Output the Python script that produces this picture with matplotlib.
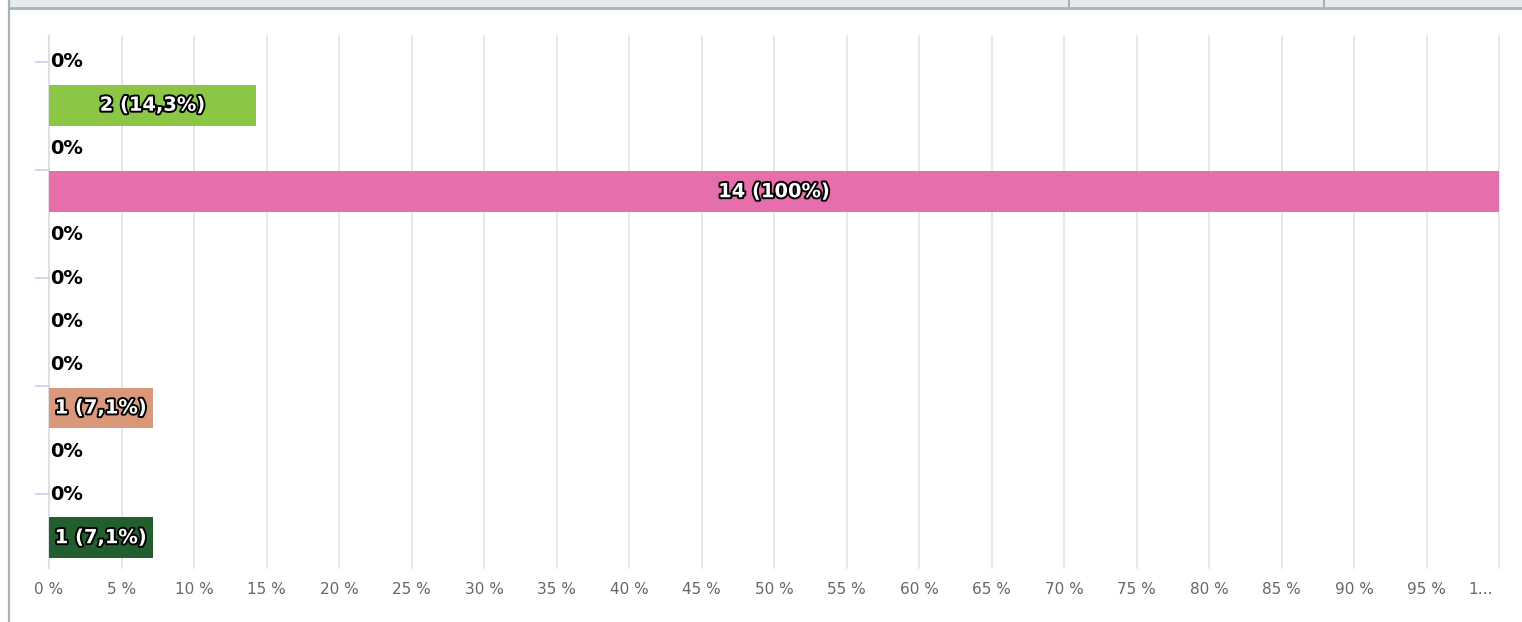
import matplotlib
matplotlib.use('Agg')
import matplotlib.pyplot as plt
import matplotlib.patheffects as pe
from matplotlib.lines import Line2D
from matplotlib.patches import Rectangle
from matplotlib.transforms import ScaledTranslation

# data (one row per answer option, top to bottom)
counts = [0, 2, 0, 14, 0, 0, 0, 0, 1, 0, 0, 1]
total = 14
row_colors = ['#8bc645', '#8bc645', '#e66eaa', '#e66eaa', '#e66eaa', '#e66eaa',
              '#e66eaa', '#e66eaa', '#da987b', '#da987b', '#225e2e', '#225e2e']
x_ticks = list(range(0, 101, 5))
x_ticklabels = [f'{t} %' for t in x_ticks[:-1]] + ['1…']

W, H = 1522, 622
fig = plt.figure(figsize=(W / 100, H / 100), dpi=100)

# frame bits from the surrounding page
fig.patches.append(Rectangle((9 / W, 1 - 7 / H), 1 - 9 / W, 7 / H, transform=fig.transFigure,
                             facecolor='#e6eaeb', edgecolor='none'))
fig.lines.append(Line2D([9 / W, 1], [1 - 8 / H, 1 - 8 / H], transform=fig.transFigure,
                        color='#a5b2b9', lw=2))
fig.lines.append(Line2D([9 / W, 9 / W], [0, 1], transform=fig.transFigure, color='#a5b2b9', lw=1.6))
for xp in (1069, 1324):
    fig.lines.append(Line2D([xp / W, xp / W], [1 - 7 / H, 1], transform=fig.transFigure,
                            color='#a5b2b9', lw=1.5))

ax = fig.add_axes([49 / W, 1 - 568 / H, 1450 / W, 532 / H])

pct = [c / total * 100 for c in counts]
rows = list(range(len(counts)))
ax.barh(rows, pct, height=0.94, color=row_colors, zorder=2)

for r, c, p in zip(rows, counts, pct):
    if c == 0:
        ax.text(0.1, r, '0%', ha='left', va='center', fontsize=14, fontweight='bold',
                color='black', zorder=3)
    else:
        s = f'{p:.1f}'.replace('.', ',').replace(',0', '')
        ax.text(p / 2, r, f'{c} ({s}%)', ha='center', va='center', fontsize=14,
                fontweight='bold', color='white', zorder=3,
                path_effects=[pe.withStroke(linewidth=2.8, foreground='black')])

ax.set_xlim(0, 100)
ax.set_ylim(11.7, -0.6)
ax.set_xticks(x_ticks)
ax.set_xticklabels(x_ticklabels, fontsize=11, color='#666666')
ax.tick_params(axis='x', length=0, pad=10)
ax.set_yticks([0, 2.5, 5, 7.5, 10])
ax.set_yticklabels([])
ax.tick_params(axis='y', length=10, width=1.2, color='#c4d2ea')
labels = ax.get_xticklabels()
labels[-1].set_horizontalalignment('right')
labels[-1].set_transform(labels[-1].get_transform() + ScaledTranslation(-6 / 100, 0, fig.dpi_scale_trans))

ax.grid(axis='x', color='#e3e3e3', lw=1.2, zorder=0)
for gl in ax.get_xgridlines():
    gl.set_clip_on(False)
for side in ('top', 'right', 'bottom'):
    ax.spines[side].set_visible(False)
ax.spines['left'].set_color('#c4d2ea')
ax.spines['left'].set_linewidth(1.5)
ax.spines['left'].set_zorder(1)

fig.savefig('out.png', dpi=100)
